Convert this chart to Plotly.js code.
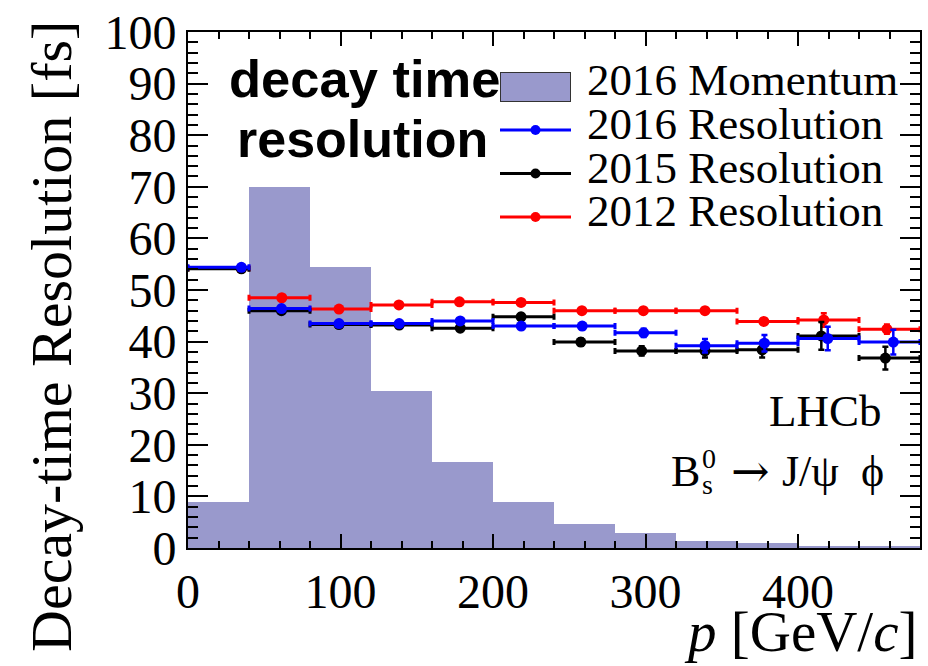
<!DOCTYPE html>
<html>
<head>
<meta charset="utf-8">
<script src="https://cdn.plot.ly/plotly-3.0.1.min.js"></script>
<style>
  html, body { margin: 0; padding: 0; background: #fff; }
  #chart { width: 928px; height: 666px; }
</style>
</head>
<body>
<div id="chart"></div>
<script>
// Momentum bins [GeV/c]
const binEdges = [0, 40, 80, 120, 160, 200, 240, 280, 320, 360, 400, 440, 480];

// 2016 momentum distribution (arbitrary scale)
const momentum2016 = [9.0, 70.0, 54.4, 30.4, 16.6, 9.0, 4.6, 3.0, 1.4, 0.9, 0.4, 0.3];

// Mean momentum in each bin and decay-time resolution [fs]
const pMean2016 = [35.0, 61.3, 99.0, 138.5, 178.5, 218.5, 258.5, 298.8, 339.0, 378.0, 419.5, 462.5];
const res2016   = [54.4, 46.4, 43.5, 43.5, 44.0, 43.0, 43.0, 41.7, 39.2, 39.7, 40.6, 39.9];
const err2016   = [0.3, 0.3, 0.3, 0.3, 0.4, 0.5, 0.6, 0.8, 1.3, 1.6, 2.3, 2.4];

const pMean2015 = [35.0, 61.3, 99.0, 138.5, 178.5, 218.4, 257.6, 297.5, 339.0, 376.5, 415.3, 457.3];
const res2015   = [54.1, 46.0, 43.3, 43.2, 42.6, 44.8, 39.9, 38.2, 38.2, 38.4, 41.1, 36.8];
const err2015   = [0.3, 0.3, 0.3, 0.4, 0.5, 0.6, 0.7, 0.9, 1.3, 1.5, 2.7, 2.2];

const pMean2012 = [35.0, 61.5, 99.0, 138.3, 178.0, 218.4, 258.3, 298.6, 339.0, 377.6, 416.9, 458.3];
const res2012   = [54.2, 48.5, 46.3, 47.1, 47.7, 47.6, 46.0, 46.0, 46.0, 43.9, 44.2, 42.4];
const err2012   = [0.3, 0.3, 0.3, 0.3, 0.3, 0.4, 0.4, 0.5, 0.5, 0.6, 1.3, 0.9];

const seriesNames = ['2016 Momentum', '2016 Resolution', '2015 Resolution', '2012 Resolution'];

const SERIF = 'Liberation Serif, Times New Roman, serif';
const SANS = 'Liberation Sans, Arial, sans-serif';

// plot frame in pixels
const W = 928, H = 666;
const M = { l: 188, r: 8, t: 32, b: 118 };
const plotW = W - M.l - M.r, plotH = H - M.t - M.b;
const px = (x) => (x - M.l) / plotW;          // page pixel -> paper x
const py = (y) => (H - M.b - y) / plotH;       // page pixel -> paper y

const binCentres = binEdges.slice(0, -1).map((e, i) => (e + binEdges[i + 1]) / 2);
const binWidths = binEdges.slice(0, -1).map((e, i) => binEdges[i + 1] - e);

const histTrace = {
  type: 'bar',
  name: seriesNames[0],
  x: binCentres,
  y: momentum2016,
  width: binWidths,
  marker: { color: '#9999cc', line: { width: 0 } },
  hoverinfo: 'x+y',
  showlegend: false
};

function resolutionTrace(name, pMean, res, err, color) {
  return {
    type: 'scatter',
    mode: 'markers',
    name: name,
    x: pMean,
    y: res,
    marker: { color: color, size: 11, symbol: 'circle' },
    error_x: {
      type: 'data', symmetric: false,
      array: pMean.map((p, i) => binEdges[i + 1] - p),
      arrayminus: pMean.map((p, i) => p - binEdges[i]),
      color: color, thickness: 3, width: 3
    },
    error_y: {
      type: 'data', array: err,
      color: color, thickness: 2.5, width: 3
    },
    showlegend: false
  };
}

const traces = [
  histTrace,
  resolutionTrace(seriesNames[3], pMean2012, res2012, err2012, '#ff0000'),
  resolutionTrace(seriesNames[2], pMean2015, res2015, err2015, '#000000'),
  resolutionTrace(seriesNames[1], pMean2016, res2016, err2016, '#0000ff')
];

// hand-drawn legend block
const legendRows = [
  { label: seriesNames[0], y: 80 },
  { label: seriesNames[1], y: 124, color: '#0000ff' },
  { label: seriesNames[2], y: 167.5, color: '#000000' },
  { label: seriesNames[3], y: 211, color: '#ff0000' }
];
const legX0 = 500, legX1 = 571, legTextX = 585;

const shapes = [];
const annotations = [];

// big bold caption
annotations.push(
  { text: '<b>decay time</b>', xref: 'paper', yref: 'paper', x: px(364), y: py(78),
    xanchor: 'center', yanchor: 'middle', showarrow: false,
    font: { family: SANS, size: 52.5, color: '#000' } },
  { text: '<b>resolution</b>', xref: 'paper', yref: 'paper', x: px(362), y: py(139),
    xanchor: 'center', yanchor: 'middle', showarrow: false,
    font: { family: SANS, size: 52, color: '#000' } }
);

// legend: filled patch for the histogram
annotations.push({
  text: ' ', xref: 'paper', yref: 'paper', x: px((legX0 + legX1) / 2), y: py(87),
  xanchor: 'center', yanchor: 'middle', showarrow: false,
  width: 69, height: 28, bgcolor: '#9999cc', bordercolor: '#333333', borderwidth: 1, borderpad: 0,
  font: { size: 4 }
});

legendRows.forEach((row, i) => {
  if (row.color) {
    const ly = row.y + 6;
    shapes.push({ type: 'line', xref: 'paper', yref: 'paper',
      x0: px(legX0), x1: px(legX1), y0: py(ly), y1: py(ly),
      line: { color: row.color, width: 3 } });
    shapes.push({ type: 'circle', xref: 'paper', yref: 'paper',
      x0: px(535.5 - 5), x1: px(535.5 + 5), y0: py(ly - 5), y1: py(ly + 5),
      fillcolor: row.color, line: { color: row.color, width: 0 } });
  }
  annotations.push({ text: row.label, xref: 'paper', yref: 'paper',
    x: px(legTextX), y: py(row.y), xanchor: 'left', yanchor: 'middle', showarrow: false,
    font: { family: SERIF, size: 45, color: '#000' } });
});

// experiment label and decay channel
const chanFont = { family: SERIF, size: 44, color: '#000' };
annotations.push(
  { text: 'LHCb', xref: 'paper', yref: 'paper', x: px(825), y: py(411),
    xanchor: 'center', yanchor: 'middle', showarrow: false,
    font: { family: SERIF, size: 45, color: '#000' } },
  { text: 'B', xref: 'paper', yref: 'paper', x: px(669), y: py(471),
    xanchor: 'left', yanchor: 'middle', showarrow: false, font: chanFont },
  { text: '0', xref: 'paper', yref: 'paper', x: px(700), y: py(458),
    xanchor: 'left', yanchor: 'middle', showarrow: false,
    font: { family: SERIF, size: 28, color: '#000' } },
  { text: 's', xref: 'paper', yref: 'paper', x: px(700), y: py(484),
    xanchor: 'left', yanchor: 'middle', showarrow: false,
    font: { family: SERIF, size: 28, color: '#000' } },
  { text: '\u2192', xref: 'paper', yref: 'paper', x: px(750), y: py(471),
    xanchor: 'center', yanchor: 'middle', showarrow: false,
    font: { family: 'DejaVu Serif, serif', size: 46, color: '#000' } },
  { text: 'J/\u03c8', xref: 'paper', yref: 'paper', x: px(780), y: py(471),
    xanchor: 'left', yanchor: 'middle', showarrow: false, font: chanFont },
  { text: '\u03d5', xref: 'paper', yref: 'paper', x: px(872), y: py(471),
    xanchor: 'center', yanchor: 'middle', showarrow: false, font: chanFont }
);

// axis titles
annotations.push(
  { text: '<i>p</i> [GeV/<i>c</i>]', xref: 'paper', yref: 'paper', x: 1.0, y: py(631),
    xanchor: 'right', yanchor: 'middle', showarrow: false,
    font: { family: SERIF, size: 57, color: '#000' } },
  { text: 'Decay-time Resolution [fs]', xref: 'paper', yref: 'paper', x: px(52), y: py(337),
    xanchor: 'center', yanchor: 'middle', textangle: -90, showarrow: false,
    font: { family: SERIF, size: 58, color: '#000' } }
);

const axisCommon = {
  showgrid: false, zeroline: false,
  showline: true, linecolor: '#000', linewidth: 2, mirror: 'allticks',
  ticks: 'inside', tickcolor: '#000', tickwidth: 2,
  tickfont: { family: SERIF, size: 48, color: '#000' }
};

const layout = {
  width: W, height: H,
  margin: M,
  paper_bgcolor: '#fff', plot_bgcolor: '#fff',
  showlegend: false,
  bargap: 0,
  xaxis: Object.assign({}, axisCommon, {
    range: [0, 480], dtick: 100, tick0: 0, ticklen: 14,
    minor: { dtick: 20, ticklen: 7, tickwidth: 2, tickcolor: '#000', ticks: 'inside' }
  }),
  yaxis: Object.assign({}, axisCommon, {
    range: [0, 100], dtick: 10, tick0: 0, ticklen: 20,
    minor: { dtick: 2, ticklen: 10, tickwidth: 2, tickcolor: '#000', ticks: 'inside' }
  }),
  shapes: shapes,
  annotations: annotations
};

Plotly.newPlot('chart', traces, layout, { staticPlot: true, displayModeBar: false });
</script>
</body>
</html>
